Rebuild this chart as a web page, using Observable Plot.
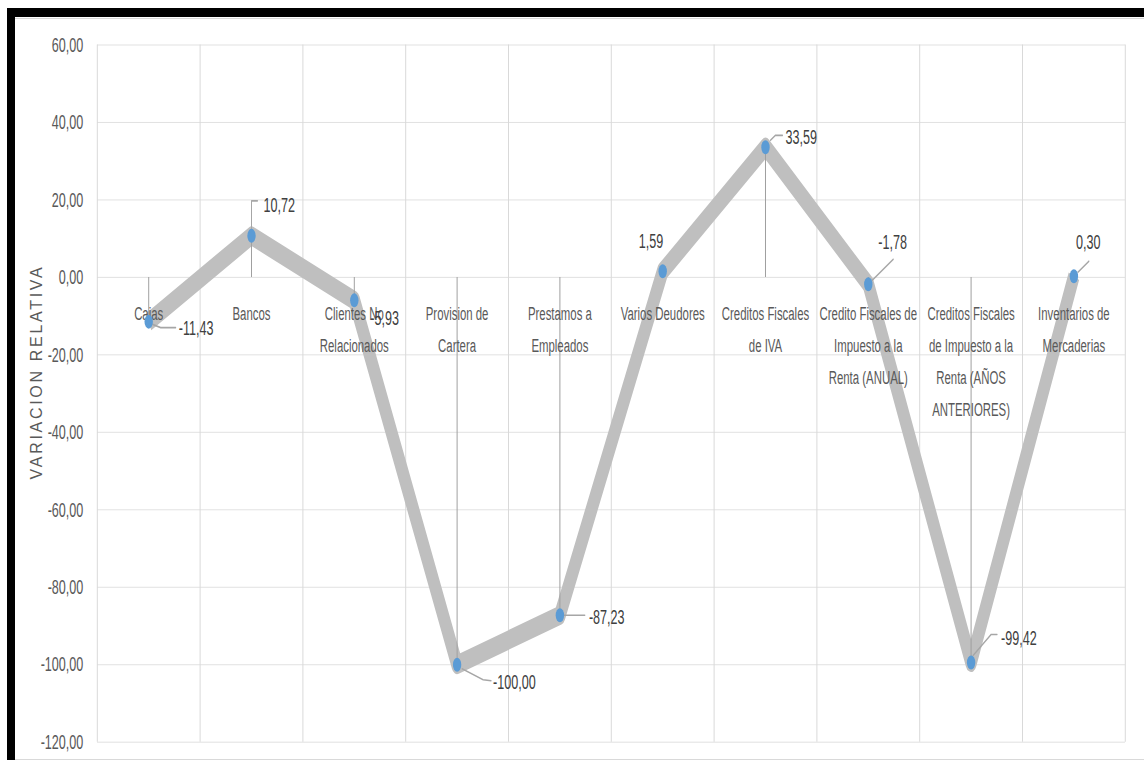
<!DOCTYPE html>
<html>
<head>
<meta charset="utf-8">
<script src="https://cdn.jsdelivr.net/npm/d3@7"></script>
<script src="https://cdn.jsdelivr.net/npm/@observablehq/plot@0.6"></script>
<style>
  html, body { margin: 0; padding: 0; background: #fff; overflow: hidden; width: 1144px; height: 760px; }
  #wrap { position: relative; width: 1144px; height: 760px; overflow: hidden; background: #fff; }
  #chart { position: absolute; left: 0; top: 0; width: 1144px; height: 760px; overflow: hidden; }
  .band { position: absolute; background: #000; }
  .hline { position: absolute; background: #d9d9d9; height: 1px; }
  #cover { position: absolute; left: 1130px; top: 19px; width: 14px; height: 739px; background: #fff; }
  #ytitle { position: absolute; left: 37px; top: 372px; transform: translate(-50%, -50%) rotate(-90deg);
            white-space: nowrap; font-family: "Liberation Sans", Arial, sans-serif; font-size: 16px;
            letter-spacing: 2.7px; color: #595959; }
</style>
</head>
<body>
<div id="wrap">
  <div id="chart"></div>
  <div id="cover"></div>
  <div class="band" style="left:7px;top:8px;width:1137px;height:9px"></div>
  <div class="band" style="left:7px;top:8px;width:8px;height:752px"></div>
  <div class="hline" style="left:15px;top:18px;width:1129px"></div>
  <div class="hline" style="left:15px;top:759px;width:1129px"></div>
  <div id="ytitle">VARIACION RELATIVA</div>
</div>
<script>
// ---- data ----
const categories = [
  "Cajas",
  "Bancos",
  "Clientes No\nRelacionados",
  "Provision de\nCartera",
  "Prestamos a\nEmpleados",
  "Varios Deudores",
  "Creditos Fiscales\nde IVA",
  "Credito Fiscales de\nImpuesto a la\nRenta (ANUAL)",
  "Creditos Fiscales\nde Impuesto a la\nRenta (AÑOS\nANTERIORES)",
  "Inventarios de\nMercaderias"
];
const values = [-11.43, 10.72, -5.93, -100.00, -87.23, 1.59, 33.59, -1.78, -99.42, 0.30];
const yTicks = [-120, -100, -80, -60, -40, -20, 0, 20, 40, 60];
const yTitle = "VARIACION RELATIVA";

// ---- label placement (screen-pixel offsets from each point) ----
const labelOffsets = [[30, 7], [12, -31], [16, 18], [36, 18], [29, 2], [-24, -30], [20, -10], [10, -42], [30, -24], [2, -34]];
const leaderOffsets = [
  [[2, 2], [12, 6], [27, 6]],
  [[0, -7], [0, -35], [6, -35]],
  [],
  [[5, 4], [26, 15], [34, 16]],
  [[4, 0], [25, 0]],
  [],
  [[5, -7], [10, -12], [17, -12]],
  [[4, -4], [25, -25]],
  [[2, -7], [20, -28], [26, -28]],
  [[4, -4], [15, -15]]
];

// ---- layout ----
const S = 0.6;                 // horizontal squeeze of the reference picture
const W = 1144 / S, H = 760;
const ML = 97 / S, MR = (1144 - 1125) / S, MT = 44.5, MB = 760 - 741.7;
const xDomain = [0, categories.length];
const yDomain = [-120, 60];
const FONT = '"Liberation Sans", Arial, sans-serif';
const fmt = v => v.toFixed(2).replace(".", ",");

const data = values.map((v, i) => ({cat: categories[i], i, x: i + 0.5, v}));

const xs = Plot.scale({x: {type: "linear", domain: xDomain, range: [ML, W - MR]}});
const ys = Plot.scale({y: {type: "linear", domain: yDomain, range: [H - MB, MT]}});
const toData = (d, ox, oy) => ({
  x: xs.invert(xs.apply(d.x) + ox / S),
  y: ys.invert(ys.apply(d.v) + oy)
});

const labels = data.map((d, i) => ({...toData(d, labelOffsets[i][0], labelOffsets[i][1]), text: fmt(d.v)}));
const leaders = data.flatMap((d, i) => leaderOffsets[i].map(([ox, oy]) => ({...toData(d, ox, oy), id: i})));

const plot = Plot.plot({
  width: W,
  height: H,
  marginLeft: ML,
  marginRight: MR,
  marginTop: MT,
  marginBottom: MB,
  x: {type: "linear", domain: xDomain, axis: null},
  y: {type: "linear", domain: yDomain, axis: null},
  style: {fontFamily: FONT, background: "transparent", maxWidth: "none"},
  marks: [
    Plot.gridY(yTicks, {stroke: "#d9d9d9", strokeOpacity: 1, strokeWidth: 1}),
    Plot.ruleX(d3.range(categories.length + 1), {stroke: "#d9d9d9", strokeWidth: 1 / S}),
    Plot.axisY(yTicks, {tickSize: 0, tickPadding: 23.3, tickFormat: fmt, fontSize: 21, color: "#595959", label: null}),
    Plot.line(data, {x: "x", y: "v", stroke: "#bfbfbf", strokeWidth: 19, strokeLinejoin: "round", strokeLinecap: "butt"}),
    Plot.ruleX(data, {x: "x", y1: () => 0, y2: "v", stroke: "#a0a0a0", strokeWidth: 1 / S}),
    Plot.text(data, {x: "x", y: () => 0, text: "cat", lineAnchor: "top", dy: 20, lineHeight: 1.68,
                     fontSize: 19, fill: "#595959", fontFamily: FONT}),
    Plot.line(leaders, {x: "x", y: "y", z: "id", stroke: "#a6a6a6", strokeWidth: 1 / S}),
    Plot.dot(data, {x: "x", y: "v", r: 7, fill: "#5b9bd5", stroke: "none"}),
    Plot.text(labels, {x: "x", y: "y", text: "text", textAnchor: "start", fontSize: 21, fill: "#404040", fontFamily: FONT})
  ]
});
plot.style.maxWidth = "none";
plot.style.transform = `scaleX(${S})`;
plot.style.transformOrigin = "0 0";
document.getElementById("chart").appendChild(plot);
document.getElementById("ytitle").textContent = yTitle;
</script>
</body>
</html>
